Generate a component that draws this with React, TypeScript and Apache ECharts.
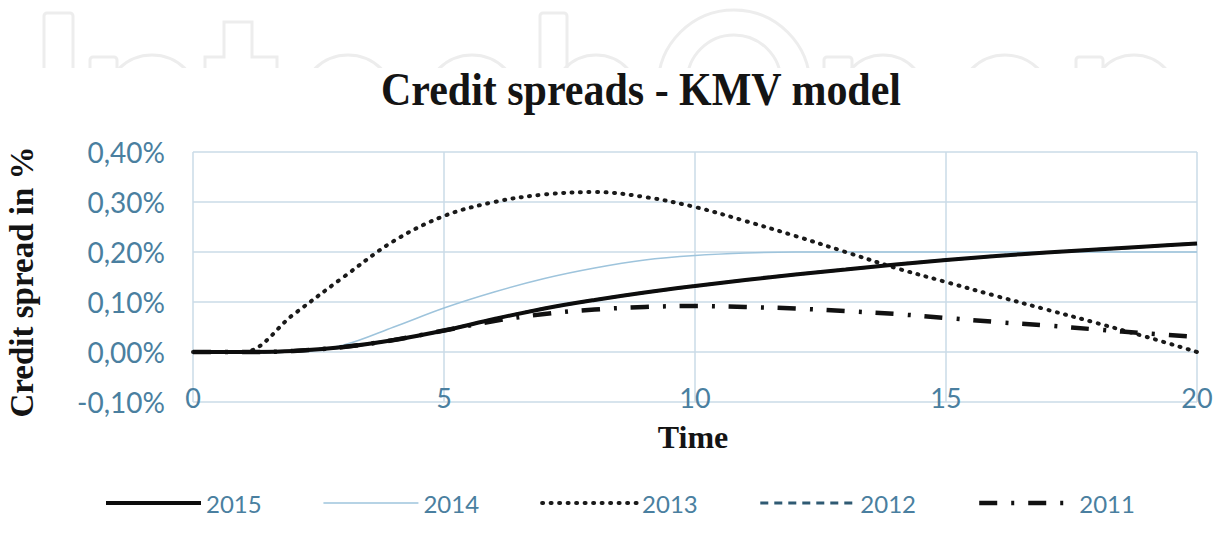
import React, { useEffect, useRef } from "react";
import * as echarts from "echarts";

const times = [0, 1, 2, 3, 4, 5, 6, 7, 8, 9, 10, 11, 12, 13, 14, 15, 16, 17, 18, 19, 20];
const s2015 = [0, 0, 0.002, 0.01, 0.024, 0.043, 0.066, 0.087, 0.104, 0.119, 0.132, 0.144, 0.155, 0.165, 0.175, 0.184, 0.192, 0.199, 0.205, 0.211, 0.217];
const s2014 = [0, 0, 0, 0.014, 0.05, 0.088, 0.12, 0.147, 0.168, 0.184, 0.193, 0.198, 0.2, 0.2, 0.2, 0.2, 0.2, 0.2, 0.2, 0.2, 0.2];
const s2013 = [0, 0, 0.075, 0.15, 0.222, 0.272, 0.3, 0.315, 0.32, 0.31, 0.29, 0.262, 0.232, 0.2, 0.168, 0.14, 0.112, 0.085, 0.058, 0.03, 0];
const s2012 = [0, 0, 0.002, 0.01, 0.024, 0.043, 0.066, 0.087, 0.104, 0.119, 0.132, 0.144, 0.155, 0.165, 0.175, 0.184, 0.192, 0.199, 0.205, 0.211, 0.217];
const s2011 = [0, 0, 0.002, 0.01, 0.024, 0.043, 0.062, 0.076, 0.085, 0.09, 0.092, 0.09, 0.087, 0.082, 0.076, 0.068, 0.06, 0.053, 0.045, 0.037, 0.03];
const seriesNames = ["2015", "2014", "2013", "2012", "2011"];
const titleText = "Credit spreads - KMV model";
const xName = "Time";
const yName = "Credit spread in %";

const pairs = (ys: number[]) => times.map((t, i) => [t, ys[i]]);

const wmStroke = { fill: "none", stroke: "#ededed", lineWidth: 3 };

function watermark() {
  const rects = [
    [44, 13, 29],
    [90, 57, 27],
    [540, 13, 27],
    [824, 57, 28],
    [1076, 57, 27],
  ];
  const ellipses = [
    [152, 100, 46, 45],
    [348, 100, 46, 45],
    [472, 100, 46, 45],
    [596, 100, 44, 45],
    [734, 86, 76, 76],
    [734, 82, 47, 47],
    [883, 100, 44, 45],
    [1005, 100, 46, 45],
    [1134, 100, 44, 45],
  ];
  const els: any[] = [];
  rects.forEach(([x, y, w]) =>
    els.push({ type: "rect", z: 0, shape: { x, y, width: w, height: 80, r: 3 }, style: wmStroke })
  );
  ellipses.forEach(([cx, cy, rx, ry]) =>
    els.push({ type: "ellipse", z: 0, shape: { cx, cy, rx, ry }, style: wmStroke })
  );
  els.push({
    type: "polyline",
    z: 0,
    shape: { points: [[205, 90], [205, 57], [224, 57], [224, 22], [252, 22], [252, 57], [277, 57], [277, 90]] },
    style: wmStroke,
  });
  els.push({ type: "rect", z: 1, shape: { x: 0, y: 68, width: 1219, height: 472 }, style: { fill: "#ffffff" } });
  return els;
}

export default function App() {
  const ref = useRef<HTMLDivElement>(null);
  useEffect(() => {
    document.body.style.margin = "0";
    const chart = echarts.init(ref.current!, null, { renderer: "svg" });
    const labelColor = "#4a7fa0";
    const gridColor = "#cadbe7";
    const tickFont = "Lato";
    const lineCommon = { type: "line", smooth: 0.35, symbol: "none" };
    chart.setOption({
      animation: false,
      backgroundColor: "#ffffff",
      grid: { left: 193, right: 22, top: 152, bottom: 138 },
      xAxis: {
        type: "value",
        min: 0,
        max: 20,
        interval: 5,
        z: 2,
        axisLine: { show: false },
        axisTick: { show: false },
        splitLine: { show: true, lineStyle: { color: gridColor, width: 1.5 } },
        axisLabel: {
          color: labelColor,
          fontFamily: tickFont,
          fontSize: 27,
          margin: -5,
          verticalAlign: "middle",
        },
      },
      yAxis: {
        type: "value",
        min: -0.1,
        max: 0.4,
        interval: 0.1,
        z: 2,
        axisLine: { show: false },
        axisTick: { show: false },
        splitLine: { show: true, lineStyle: { color: gridColor, width: 1.5 } },
        axisLabel: {
          color: labelColor,
          fontFamily: tickFont,
          fontSize: 28,
          margin: 28,
          formatter: (v: number) => v.toFixed(2).replace(".", ",") + "%",
        },
      },
      legend: {
        data: seriesNames,
        top: 486,
        left: 99,
        itemWidth: 95,
        itemHeight: 14,
        itemGap: 61,
        itemStyle: { opacity: 0 },
        lineStyle: { width: "inherit" },
        textStyle: { color: labelColor, fontFamily: tickFont, fontSize: 24 },
      },
      series: [
        {
          ...lineCommon,
          name: "2012",
          data: pairs(s2012),
          z: 3,
          lineStyle: { color: "#2f5a73", width: 3, type: [8, 6] },
          itemStyle: { color: "#2f5a73" },
        },
        {
          ...lineCommon,
          name: "2014",
          data: pairs(s2014),
          z: 3,
          lineStyle: { color: "#9ec4dc", width: 1.5 },
          itemStyle: { color: "#9ec4dc" },
        },
        {
          ...lineCommon,
          name: "2013",
          data: pairs(s2013),
          z: 4,
          lineStyle: { color: "#1a1a1a", width: 4, type: [1, 7.5], cap: "round" },
          itemStyle: { color: "#1a1a1a" },
        },
        {
          ...lineCommon,
          name: "2011",
          data: pairs(s2011),
          z: 4,
          lineStyle: { color: "#111111", width: 4.5, type: [18, 14, 3, 14] },
          itemStyle: { color: "#111111" },
        },
        {
          ...lineCommon,
          name: "2015",
          data: pairs(s2015),
          z: 5,
          lineStyle: { color: "#0d0d0d", width: 4 },
          itemStyle: { color: "#0d0d0d" },
        },
      ],
      graphic: [
        ...watermark(),
        {
          type: "text",
          z: 10,
          x: 641,
          y: 90,
          scaleY: 1.1,
          style: {
            text: titleText,
            fontFamily: "Liberation Serif",
            fontWeight: "bold",
            fontSize: 42,
            fill: "#141414",
            textAlign: "center",
            textVerticalAlign: "middle",
          },
        },
        {
          type: "text",
          z: 10,
          x: 693,
          y: 437,
          style: {
            text: xName,
            fontFamily: "Liberation Serif",
            fontWeight: "bold",
            fontSize: 32,
            fill: "#141414",
            textAlign: "center",
            textVerticalAlign: "middle",
          },
        },
        {
          type: "text",
          z: 10,
          x: 22,
          y: 282,
          rotation: Math.PI / 2,
          style: {
            text: yName,
            fontFamily: "Liberation Serif",
            fontWeight: "bold",
            fontSize: 33,
            fill: "#141414",
            textAlign: "center",
            textVerticalAlign: "middle",
          },
        },
      ],
    });
    return () => chart.dispose();
  }, []);
  return <div ref={ref} style={{ width: 1219, height: 540 }} />;
}
